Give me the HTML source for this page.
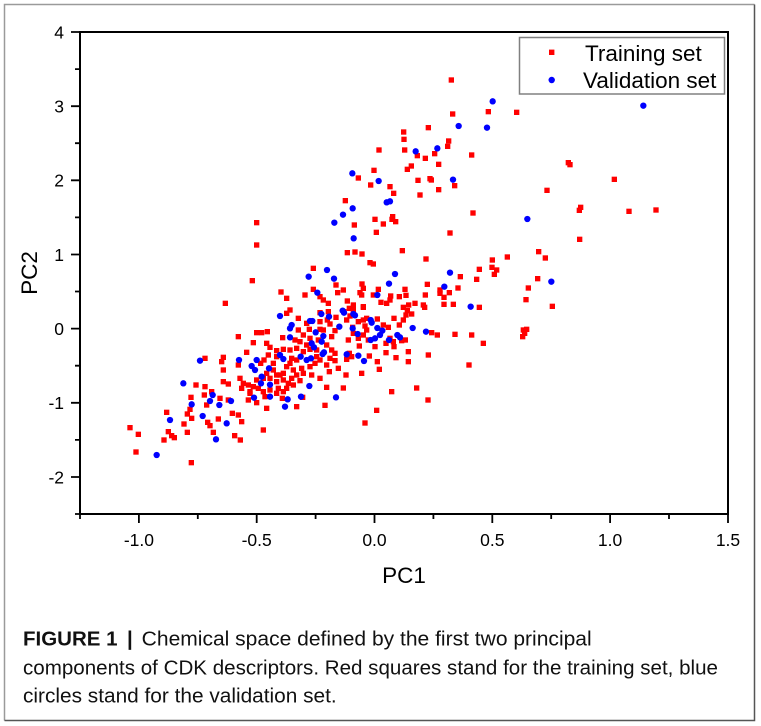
<!DOCTYPE html>
<html><head><meta charset="utf-8"><style>
html,body{margin:0;padding:0;background:#fff;}
svg{display:block;}
text{font-family:"Liberation Sans",Arial,sans-serif;}
</style></head><body>
<svg width="761" height="726" viewBox="0 0 761 726" xmlns="http://www.w3.org/2000/svg">
<defs>
<rect id="r" x="-8" y="-8" width="16" height="16" fill="#ff0000"/>
<circle id="b" r="9.5" fill="#0000ff"/>
</defs>
<rect x="0" y="0" width="761" height="726" fill="#fff"/>
<!-- outer border -->
<path d="M4.5 720.5 V4.5 H754.5" fill="none" stroke="#9a9a9a" stroke-width="1.5"/>
<path d="M754.5 4.5 V720.5 H4.5" fill="none" stroke="#555" stroke-width="1.5"/>

<!-- RED points -->
<g transform="translate(110 260) scale(0.3333333)">
<use href="#r" x="610" y="25"/><use href="#r" x="427" y="62"/><use href="#r" x="513" y="96"/><use href="#r" x="530" y="115"/><use href="#r" x="585" y="105"/><use href="#r" x="610" y="88"/><use href="#r" x="346" y="130"/><use href="#r" x="540" y="150"/><use href="#r" x="530" y="160"/><use href="#r" x="565" y="175"/><use href="#r" x="590" y="190"/><use href="#r" x="565" y="210"/><use href="#r" x="598" y="208"/><use href="#r" x="385" y="230"/><use href="#r" x="440" y="218"/><use href="#r" x="455" y="218"/><use href="#r" x="472" y="215"/><use href="#r" x="518" y="233"/><use href="#r" x="555" y="240"/><use href="#r" x="570" y="245"/><use href="#r" x="430" y="248"/><use href="#r" x="470" y="250"/><use href="#r" x="480" y="262"/><use href="#r" x="500" y="272"/><use href="#r" x="520" y="268"/><use href="#r" x="540" y="270"/><use href="#r" x="560" y="265"/><use href="#r" x="580" y="275"/><use href="#r" x="600" y="268"/><use href="#r" x="620" y="270"/><use href="#r" x="410" y="277"/><use href="#r" x="340" y="292"/><use href="#r" x="285" y="295"/><use href="#r" x="335" y="305"/><use href="#r" x="462" y="300"/><use href="#r" x="500" y="290"/><use href="#r" x="545" y="295"/><use href="#r" x="615" y="310"/><use href="#r" x="630" y="300"/><use href="#r" x="340" y="330"/><use href="#r" x="385" y="315"/><use href="#r" x="452" y="310"/><use href="#r" x="470" y="340"/><use href="#r" x="490" y="330"/><use href="#r" x="510" y="345"/><use href="#r" x="530" y="320"/><use href="#r" x="550" y="330"/><use href="#r" x="575" y="325"/><use href="#r" x="600" y="320"/><use href="#r" x="258" y="375"/><use href="#r" x="285" y="380"/><use href="#r" x="305" y="395"/><use href="#r" x="340" y="365"/><use href="#r" x="355" y="372"/><use href="#r" x="390" y="355"/><use href="#r" x="400" y="370"/><use href="#r" x="415" y="375"/><use href="#r" x="430" y="380"/><use href="#r" x="500" y="365"/><use href="#r" x="520" y="360"/><use href="#r" x="545" y="355"/><use href="#r" x="570" y="362"/><use href="#r" x="243" y="412"/><use href="#r" x="283" y="405"/><use href="#r" x="330" y="415"/><use href="#r" x="355" y="420"/><use href="#r" x="290" y="435"/><use href="#r" x="415" y="420"/><use href="#r" x="440" y="428"/><use href="#r" x="465" y="410"/><use href="#r" x="517" y="415"/><use href="#r" x="560" y="440"/><use href="#r" x="578" y="412"/><use href="#r" x="470" y="445"/><use href="#r" x="240" y="448"/><use href="#r" x="170" y="457"/><use href="#r" x="232" y="462"/><use href="#r" x="245" y="475"/><use href="#r" x="325" y="477"/><use href="#r" x="367" y="460"/><use href="#r" x="385" y="465"/><use href="#r" x="222" y="492"/><use href="#r" x="293" y="487"/><use href="#r" x="300" y="497"/><use href="#r" x="395" y="485"/><use href="#r" x="60" y="503"/><use href="#r" x="85" y="523"/><use href="#r" x="175" y="515"/><use href="#r" x="185" y="527"/><use href="#r" x="162" y="540"/><use href="#r" x="193" y="533"/><use href="#r" x="232" y="517"/><use href="#r" x="310" y="517"/><use href="#r" x="374" y="527"/><use href="#r" x="391" y="540"/><use href="#r" x="460" y="510"/><use href="#r" x="78" y="576"/><use href="#r" x="244" y="608"/>
<use href="#r" x="395" y="385"/><use href="#r" x="420" y="395"/><use href="#r" x="445" y="385"/><use href="#r" x="460" y="395"/><use href="#r" x="480" y="390"/><use href="#r" x="505" y="385"/><use href="#r" x="530" y="385"/><use href="#r" x="550" y="375"/><use href="#r" x="500" y="400"/><use href="#r" x="520" y="395"/><use href="#r" x="540" y="310"/><use href="#r" x="520" y="340"/><use href="#r" x="580" y="340"/><use href="#r" x="605" y="345"/><use href="#r" x="480" y="355"/><use href="#r" x="490" y="310"/><use href="#r" x="560" y="300"/><use href="#r" x="475" y="285"/><use href="#r" x="620" y="290"/><use href="#r" x="600" y="235"/><use href="#r" x="580" y="225"/><use href="#r" x="590" y="255"/><use href="#r" x="625" y="240"/><use href="#r" x="420" y="400"/><use href="#r" x="440" y="360"/><use href="#r" x="500" y="345"/><use href="#r" x="460" y="355"/><use href="#r" x="560" y="345"/><use href="#r" x="535" y="370"/>
</g>
<g transform="translate(320 240) scale(0.3333333)">
<use href="#r" x="82" y="38"/><use href="#r" x="105" y="36"/><use href="#r" x="126" y="42"/><use href="#r" x="247" y="32"/><use href="#r" x="150" y="68"/><use href="#r" x="160" y="72"/><use href="#r" x="318" y="57"/><use href="#r" x="517" y="60"/><use href="#r" x="562" y="51"/><use href="#r" x="656" y="35"/><use href="#r" x="421" y="110"/><use href="#r" x="478" y="88"/><use href="#r" x="516" y="82"/><use href="#r" x="530" y="90"/><use href="#r" x="523" y="103"/><use href="#r" x="470" y="118"/><use href="#r" x="653" y="116"/><use href="#r" x="48" y="135"/><use href="#r" x="70" y="150"/><use href="#r" x="53" y="158"/><use href="#r" x="126" y="132"/><use href="#r" x="130" y="145"/><use href="#r" x="120" y="158"/><use href="#r" x="125" y="165"/><use href="#r" x="175" y="148"/><use href="#r" x="160" y="165"/><use href="#r" x="212" y="168"/><use href="#r" x="210" y="180"/><use href="#r" x="183" y="187"/><use href="#r" x="200" y="190"/><use href="#r" x="238" y="170"/><use href="#r" x="255" y="148"/><use href="#r" x="258" y="166"/><use href="#r" x="322" y="133"/><use href="#r" x="316" y="165"/><use href="#r" x="360" y="150"/><use href="#r" x="360" y="160"/><use href="#r" x="372" y="172"/><use href="#r" x="388" y="158"/><use href="#r" x="414" y="144"/><use href="#r" x="625" y="144"/><use href="#r" x="618" y="179"/><use href="#r" x="0" y="170"/><use href="#r" x="10" y="180"/><use href="#r" x="25" y="190"/><use href="#r" x="82" y="183"/><use href="#r" x="100" y="195"/><use href="#r" x="88" y="205"/><use href="#r" x="130" y="200"/><use href="#r" x="250" y="202"/><use href="#r" x="266" y="195"/><use href="#r" x="285" y="190"/><use href="#r" x="262" y="212"/><use href="#r" x="275" y="222"/><use href="#r" x="258" y="225"/><use href="#r" x="310" y="195"/><use href="#r" x="314" y="202"/><use href="#r" x="372" y="193"/><use href="#r" x="400" y="193"/><use href="#r" x="478" y="202"/><use href="#r" x="0" y="218"/><use href="#r" x="25" y="215"/><use href="#r" x="22" y="240"/><use href="#r" x="48" y="232"/><use href="#r" x="72" y="215"/><use href="#r" x="80" y="240"/><use href="#r" x="100" y="210"/><use href="#r" x="90" y="228"/><use href="#r" x="130" y="202"/><use href="#r" x="140" y="235"/><use href="#r" x="130" y="240"/><use href="#r" x="115" y="245"/><use href="#r" x="172" y="237"/><use href="#r" x="190" y="255"/><use href="#r" x="205" y="262"/><use href="#r" x="222" y="235"/><use href="#r" x="250" y="240"/><use href="#r" x="238" y="255"/><use href="#r" x="335" y="278"/><use href="#r" x="352" y="285"/><use href="#r" x="405" y="283"/><use href="#r" x="455" y="285"/><use href="#r" x="490" y="310"/><use href="#r" x="610" y="270"/><use href="#r" x="620" y="268"/><use href="#r" x="608" y="290"/><use href="#r" x="614" y="280"/><use href="#r" x="0" y="245"/><use href="#r" x="0" y="268"/><use href="#r" x="10" y="270"/><use href="#r" x="30" y="252"/><use href="#r" x="45" y="272"/><use href="#r" x="35" y="290"/><use href="#r" x="98" y="262"/><use href="#r" x="100" y="280"/><use href="#r" x="85" y="300"/><use href="#r" x="115" y="295"/><use href="#r" x="135" y="258"/><use href="#r" x="140" y="270"/><use href="#r" x="130" y="285"/><use href="#r" x="145" y="300"/><use href="#r" x="118" y="318"/><use href="#r" x="165" y="320"/><use href="#r" x="198" y="310"/><use href="#r" x="210" y="295"/><use href="#r" x="220" y="305"/><use href="#r" x="222" y="320"/><use href="#r" x="245" y="302"/><use href="#r" x="256" y="300"/><use href="#r" x="198" y="338"/><use href="#r" x="228" y="353"/><use href="#r" x="265" y="335"/><use href="#r" x="265" y="365"/><use href="#r" x="325" y="345"/><use href="#r" x="447" y="375"/><use href="#r" x="20" y="315"/><use href="#r" x="35" y="330"/><use href="#r" x="45" y="340"/><use href="#r" x="30" y="355"/><use href="#r" x="20" y="375"/><use href="#r" x="45" y="362"/><use href="#r" x="95" y="350"/><use href="#r" x="80" y="358"/><use href="#r" x="88" y="340"/><use href="#r" x="148" y="348"/><use href="#r" x="172" y="365"/><use href="#r" x="178" y="388"/><use href="#r" x="55" y="385"/><use href="#r" x="28" y="395"/><use href="#r" x="78" y="405"/><use href="#r" x="125" y="400"/><use href="#r" x="0" y="415"/><use href="#r" x="20" y="442"/><use href="#r" x="70" y="444"/><use href="#r" x="290" y="444"/><use href="#r" x="215" y="455"/><use href="#r" x="324" y="480"/><use href="#r" x="15" y="496"/><use href="#r" x="170" y="511"/><use href="#r" x="135" y="549"/>
</g>
<g transform="translate(300 60) scale(0.3333333)">
<use href="#r" x="454" y="60"/><use href="#r" x="458" y="162"/><use href="#r" x="565" y="155"/><use href="#r" x="385" y="203"/><use href="#r" x="311" y="216"/><use href="#r" x="312" y="238"/><use href="#r" x="446" y="243"/><use href="#r" x="443" y="259"/><use href="#r" x="237" y="270"/><use href="#r" x="314" y="270"/><use href="#r" x="352" y="287"/><use href="#r" x="376" y="295"/><use href="#r" x="404" y="281"/><use href="#r" x="515" y="285"/><use href="#r" x="416" y="313"/><use href="#r" x="334" y="318"/><use href="#r" x="322" y="328"/><use href="#r" x="222" y="331"/><use href="#r" x="175" y="354"/><use href="#r" x="212" y="375"/><use href="#r" x="354" y="361"/><use href="#r" x="390" y="356"/><use href="#r" x="394" y="360"/><use href="#r" x="464" y="377"/><use href="#r" x="270" y="380"/><use href="#r" x="281" y="400"/><use href="#r" x="360" y="405"/><use href="#r" x="416" y="389"/><use href="#r" x="136" y="422"/><use href="#r" x="163" y="495"/><use href="#r" x="225" y="478"/><use href="#r" x="278" y="470"/><use href="#r" x="276" y="478"/><use href="#r" x="287" y="485"/><use href="#r" x="250" y="492"/><use href="#r" x="229" y="517"/><use href="#r" x="519" y="459"/><use href="#r" x="450" y="519"/>
</g>
<g transform="translate(500 90) scale(0.3333333)">
<use href="#r" x="50" y="67"/><use href="#r" x="205" y="218"/><use href="#r" x="210" y="224"/><use href="#r" x="343" y="268"/><use href="#r" x="141" y="301"/><use href="#r" x="242" y="352"/><use href="#r" x="238" y="361"/><use href="#r" x="387" y="364"/><use href="#r" x="468" y="360"/><use href="#r" x="239" y="448"/><use href="#r" x="136" y="504"/><use href="#r" x="157" y="649"/>
</g>
<g transform="translate(180 180) scale(0.3333333)">
<use href="#r" x="230" y="128"/><use href="#r" x="230" y="195"/>
</g>

<!-- BLUE points -->
<g transform="translate(110 260) scale(0.3333333)">
<use href="#b" x="596" y="50"/><use href="#b" x="622" y="98"/><use href="#b" x="510" y="168"/><use href="#b" x="600" y="183"/><use href="#b" x="607" y="183"/><use href="#b" x="545" y="195"/><use href="#b" x="540" y="205"/><use href="#b" x="617" y="217"/><use href="#b" x="640" y="228"/><use href="#b" x="540" y="232"/><use href="#b" x="605" y="250"/><use href="#b" x="612" y="262"/><use href="#b" x="635" y="245"/><use href="#b" x="270" y="302"/><use href="#b" x="387" y="300"/><use href="#b" x="440" y="300"/><use href="#b" x="510" y="285"/><use href="#b" x="520" y="297"/><use href="#b" x="572" y="290"/><use href="#b" x="590" y="300"/><use href="#b" x="603" y="295"/><use href="#b" x="425" y="318"/><use href="#b" x="435" y="330"/><use href="#b" x="477" y="325"/><use href="#b" x="220" y="370"/><use href="#b" x="455" y="350"/><use href="#b" x="453" y="370"/><use href="#b" x="480" y="374"/><use href="#b" x="598" y="378"/><use href="#b" x="308" y="405"/><use href="#b" x="300" y="423"/><use href="#b" x="363" y="423"/><use href="#b" x="328" y="435"/><use href="#b" x="245" y="433"/><use href="#b" x="432" y="413"/><use href="#b" x="480" y="410"/><use href="#b" x="533" y="418"/><use href="#b" x="573" y="410"/><use href="#b" x="525" y="440"/><use href="#b" x="278" y="468"/><use href="#b" x="180" y="480"/><use href="#b" x="350" y="490"/><use href="#b" x="318" y="538"/><use href="#b" x="140" y="585"/>
</g>
<g transform="translate(320 240) scale(0.3333333)">
<use href="#b" x="21" y="90"/><use href="#b" x="42" y="116"/><use href="#b" x="225" y="102"/><use href="#b" x="207" y="131"/><use href="#b" x="390" y="98"/><use href="#b" x="373" y="140"/><use href="#b" x="452" y="200"/><use href="#b" x="4" y="222"/><use href="#b" x="27" y="230"/><use href="#b" x="68" y="212"/><use href="#b" x="72" y="218"/><use href="#b" x="100" y="222"/><use href="#b" x="105" y="226"/><use href="#b" x="152" y="240"/><use href="#b" x="155" y="248"/><use href="#b" x="278" y="264"/><use href="#b" x="318" y="275"/><use href="#b" x="58" y="260"/><use href="#b" x="98" y="265"/><use href="#b" x="113" y="282"/><use href="#b" x="152" y="300"/><use href="#b" x="165" y="295"/><use href="#b" x="180" y="285"/><use href="#b" x="187" y="272"/><use href="#b" x="172" y="264"/><use href="#b" x="207" y="300"/><use href="#b" x="232" y="285"/><use href="#b" x="240" y="292"/><use href="#b" x="8" y="342"/><use href="#b" x="12" y="337"/><use href="#b" x="80" y="343"/><use href="#b" x="115" y="347"/><use href="#b" x="132" y="363"/><use href="#b" x="48" y="472"/><use href="#b" x="172" y="165"/>
</g>
<g transform="translate(300 60) scale(0.3333333)">
<use href="#b" x="578" y="124"/><use href="#b" x="476" y="198"/><use href="#b" x="561" y="203"/><use href="#b" x="347" y="274"/><use href="#b" x="412" y="265"/><use href="#b" x="157" y="340"/><use href="#b" x="236" y="363"/><use href="#b" x="459" y="359"/><use href="#b" x="158" y="445"/><use href="#b" x="260" y="427"/><use href="#b" x="270" y="424"/><use href="#b" x="129" y="464"/><use href="#b" x="103" y="488"/><use href="#b" x="161" y="535"/>
</g>
<g transform="translate(500 90) scale(0.3333333)">
<use href="#b" x="430" y="47"/><use href="#b" x="82" y="387"/><use href="#b" x="154" y="575"/>
</g>

<!-- axes frame -->
<rect x="80" y="32" width="648" height="482" fill="none" stroke="#000" stroke-width="2"/>
<!-- y ticks -->
<path d="M71 32H80 M71 106.2H80 M71 180.3H80 M71 254.5H80 M71 328.6H80 M71 402.8H80 M71 477H80" stroke="#000" stroke-width="1.8"/>
<path d="M75 69.1H80 M75 143.2H80 M75 217.4H80 M75 291.5H80 M75 365.7H80 M75 439.9H80 M75 514H80" stroke="#000" stroke-width="1.8"/>
<!-- x ticks -->
<path d="M138.9 514V523 M256.7 514V523 M374.5 514V523 M492.3 514V523 M610.1 514V523 M728 514V523" stroke="#000" stroke-width="1.8"/>
<path d="M80 514V519 M197.8 514V519 M315.6 514V519 M433.4 514V519 M551.2 514V519 M669 514V519" stroke="#000" stroke-width="1.8"/>

<!-- y labels -->
<g font-size="17.5" text-anchor="end" fill="#000">
<text x="64" y="38.3">4</text>
<text x="64" y="112.5">3</text>
<text x="64" y="186.6">2</text>
<text x="64" y="260.8">1</text>
<text x="64" y="334.9">0</text>
<text x="64" y="409.1">-1</text>
<text x="64" y="483.3">-2</text>
</g>
<!-- x labels -->
<g font-size="17.5" text-anchor="middle" fill="#000">
<text x="138.9" y="546">-1.0</text>
<text x="256.7" y="546">-0.5</text>
<text x="374.5" y="546">0.0</text>
<text x="492.3" y="546">0.5</text>
<text x="610.1" y="546">1.0</text>
<text x="728" y="546">1.5</text>
</g>
<!-- axis titles -->
<text x="404" y="583" font-size="22.5" text-anchor="middle" fill="#000">PC1</text>
<text transform="translate(37 273) rotate(-90)" font-size="22.5" text-anchor="middle" fill="#000">PC2</text>

<!-- legend -->
<rect x="519.5" y="37.5" width="205" height="56.5" fill="#fff" stroke="#808080" stroke-width="1.5"/>
<rect x="549" y="49.6" width="5.4" height="5.4" fill="#ff0000"/>
<circle cx="551.7" cy="80" r="3.2" fill="#0000ff"/>
<text x="585" y="61" font-size="22.5" fill="#000">Training set</text>
<text x="583" y="88" font-size="22.5" fill="#000">Validation set</text>

<!-- caption -->
<g font-size="20.5" fill="#111">
<text x="23" y="645.3"><tspan font-weight="bold">FIGURE 1</tspan></text>
<text x="127" y="645.3" font-weight="bold">|</text>
<text x="141.7" y="645.3" textLength="450" lengthAdjust="spacingAndGlyphs">Chemical space defined by the first two principal</text>
<text x="23" y="674.3" textLength="695" lengthAdjust="spacingAndGlyphs">components of CDK descriptors. Red squares stand for the training set, blue</text>
<text x="23" y="702.7" textLength="313.7" lengthAdjust="spacingAndGlyphs">circles stand for the validation set.</text>
</g>
</svg>
</body></html>
